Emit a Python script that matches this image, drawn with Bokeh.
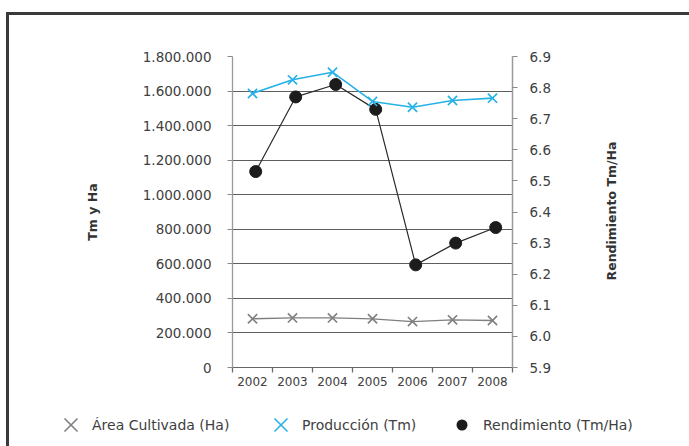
from bokeh.plotting import figure
from bokeh.layouts import column
from bokeh.models import Range1d, LinearAxis, FixedTicker, InlineStyleSheet, Div
from bokeh.embed import file_html
from bokeh.resources import INLINE
import numpy as np

# --- data -------------------------------------------------------------
years = ["2002", "2003", "2004", "2005", "2006", "2007", "2008"]
area_cultivada = [282000, 287000, 287000, 282000, 266000, 276000, 272000]      # Ha
produccion = [1586000, 1665000, 1709000, 1540000, 1506000, 1545000, 1559000]  # Tm
rendimiento = [6.53, 6.77, 6.81, 6.73, 6.23, 6.30, 6.35]                    # Tm/Ha

left_ticks = [0, 200000, 400000, 600000, 800000, 1000000, 1200000, 1400000, 1600000, 1800000]
left_labels = ["0", "200.000", "400.000", "600.000", "800.000", "1.000.000",
               "1.200.000", "1.400.000", "1.600.000", "1.800.000"]
right_ticks = [5.9, 6.0, 6.1, 6.2, 6.3, 6.4, 6.5, 6.6, 6.7, 6.8, 6.9]
right_labels = ["5.9", "6.0", "6.1", "6.2", "6.3", "6.4", "6.5", "6.6", "6.7", "6.8", "6.9"]

series_names = ["Área Cultivada (Ha)", "Producción (Tm)", "Rendimiento (Tm/Ha)"]
left_title = "Tm y Ha"
right_title = "Rendimiento Tm/Ha"

# --- styling ----------------------------------------------------------
FONT = "DejaVu Sans"
TEXT = "#404040"
TITLE = "#333333"
GRAY = "#7f7f7f"
BLUE = "#27b2e6"
BLACK = "#1c1c1c"
W = 689
H_MAIN, H_KEY = 400, 46

# category centres along x; the yield series sits slightly to the right
x_pos = np.arange(len(years)) + 0.5
x_rend = x_pos + 0.08
bounds = list(np.arange(len(years) + 1, dtype=float))

p = figure(width=W, height=H_MAIN, output_backend="svg", toolbar_location=None,
           x_range=Range1d(0, len(years)), y_range=Range1d(left_ticks[0], left_ticks[-1]),
           min_border_left=232, min_border_right=177, min_border_top=56,
           min_border_bottom=33)
p.outline_line_color = None
p.background_fill_color = "white"
p.border_fill_color = "white"
p.extra_y_ranges = {"rend": Range1d(right_ticks[0], right_ticks[-1])}

# x axis: labels at category centres, tick marks at category boundaries
xax = p.xaxis[0]
xax.ticker = FixedTicker(ticks=list(x_pos), minor_ticks=bounds)
xax.major_label_overrides = {float(v): y for v, y in zip(x_pos, years)}
xax.major_tick_out = 0
xax.major_tick_in = 0
xax.minor_tick_out = 5
xax.minor_tick_in = 0
xax.minor_tick_line_color = "#6a6a6a"
xax.minor_tick_line_width = 1.3
xax.axis_line_color = "#666666"
xax.major_label_standoff = 4
xax.major_label_text_font = FONT
xax.major_label_text_font_size = "12px"
xax.major_label_text_color = TEXT

# left axis
yax = p.yaxis[0]
yax.ticker = FixedTicker(ticks=left_ticks)
yax.major_label_overrides = dict(zip(left_ticks, left_labels))
yax.minor_tick_line_color = None
yax.major_tick_out = 5
yax.major_tick_in = 0
yax.major_tick_line_color = "#8a8a8a"
yax.axis_line_color = "#9a9a9a"
yax.axis_line_width = 1.3
yax.major_label_standoff = 16
yax.major_label_text_font = FONT
yax.major_label_text_font_size = "13.5px"
yax.major_label_text_color = TEXT
yax.axis_label = left_title
yax.axis_label_text_font = FONT
yax.axis_label_text_font_style = "bold"
yax.axis_label_text_font_size = "12.5px"
yax.axis_label_text_color = TITLE
yax.axis_label_standoff = 40

# right axis (its title is set in the overlay below so it reads bottom-to-top)
rax = LinearAxis(y_range_name="rend", ticker=FixedTicker(ticks=right_ticks))
rax.major_label_overrides = dict(zip(right_ticks, right_labels))
rax.minor_tick_line_color = None
rax.major_tick_out = 5
rax.major_tick_in = 0
rax.major_tick_line_color = "#8a8a8a"
rax.axis_line_color = "#9a9a9a"
rax.axis_line_width = 1.5
rax.major_label_standoff = 12
rax.major_label_text_font = FONT
rax.major_label_text_font_size = "13.5px"
rax.major_label_text_color = TEXT
p.add_layout(rax, "right")

# horizontal gridlines only
p.xgrid.visible = False
p.ygrid.ticker = FixedTicker(ticks=left_ticks)
p.ygrid.grid_line_color = "#5e5e5e"
p.ygrid.grid_line_width = 1.2

# --- series -----------------------------------------------------------
p.line(x_pos, area_cultivada, line_color=GRAY, line_width=1.3)
p.scatter(x_pos, area_cultivada, marker="x", size=13, line_color=GRAY, line_width=1.6)

p.line(x_rend, rendimiento, y_range_name="rend", line_color="#2a2a2a", line_width=1.2)
p.scatter(x_rend, rendimiento, y_range_name="rend", marker="circle",
          size=12, fill_color=BLACK, line_color=BLACK)

p.line(x_pos, produccion, line_color=BLUE, line_width=1.6)
p.scatter(x_pos, produccion, marker="x", size=13, line_color=BLUE, line_width=1.7)

# --- key row under the chart + right-hand axis title ------------------
key_cx = [71, 281, 462]     # swatch centres (px)
key_cy = 25
half = 6.5
swatches = []
for cx, col, kind in zip(key_cx, [GRAY, BLUE, BLACK], ["x", "x", "dot"]):
    if kind == "x":
        swatches.append(
            f'<line x1="{cx-half}" y1="{key_cy-half}" x2="{cx+half}" y2="{key_cy+half}" '
            f'stroke="{col}" stroke-width="1.6"/>'
            f'<line x1="{cx-half}" y1="{key_cy+half}" x2="{cx+half}" y2="{key_cy-half}" '
            f'stroke="{col}" stroke-width="1.6"/>')
    else:
        swatches.append(f'<circle cx="{cx}" cy="{key_cy}" r="5.5" fill="{col}"/>')
labels = "".join(
    f'<span style="position:absolute;left:{cx+21}px;top:{key_cy-9}px;'
    f'line-height:18px;white-space:nowrap">{name}</span>'
    for cx, name in zip(key_cx, series_names))

# right title centred beside the plot area (x = 611, y = 211 on the page)
title_cx, title_cy = 611, 211 - H_MAIN
right_title_html = (
    f'<span style="position:absolute;left:{title_cx}px;top:{title_cy}px;'
    f'transform:translate(-50%,-50%) rotate(-90deg);white-space:nowrap;'
    f'font-weight:bold;font-size:12.5px;color:{TITLE};line-height:15px">'
    f'{right_title}</span>')

key_html = (
    f'<div style="position:relative;width:{W}px;height:{H_KEY}px;overflow:visible;'
    f"font-family:'{FONT}';font-size:14px;color:{TEXT}\">"
    f'<svg style="position:absolute;left:0;top:0" width="{W}" height="{H_KEY}">'
    + "".join(swatches) + "</svg>" + labels + right_title_html + "</div>")
key = Div(text=key_html, width=W, height=H_KEY, margin=0,
          stylesheets=[InlineStyleSheet(css=":host, .bk-clearfix { overflow: visible !important; }")])

layout = column(p, key, spacing=0)

# outer frame (top and left edges) drawn around the whole chart
layout.stylesheets = [InlineStyleSheet(css="""
:host { position: relative; }
:host::after {
  content: ""; position: absolute; left: 6px; top: 12px; right: 0; bottom: 0;
  border-top: 3px solid #3a3a3a; border-left: 3px solid #3a3a3a;
  pointer-events: none;
}
""")]

open("out.html", "w").write(file_html(layout, INLINE))
